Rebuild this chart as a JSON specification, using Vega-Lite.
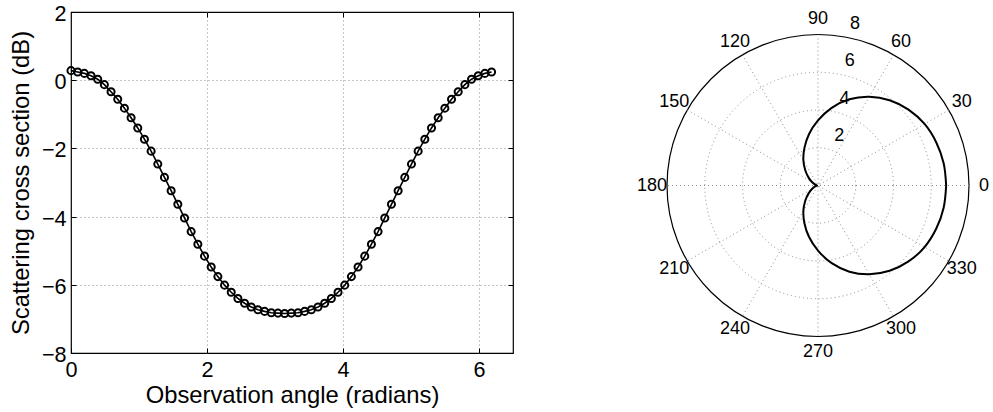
{
  "$schema": "https://vega.github.io/schema/vega-lite/v6.json",
  "background": "white",
  "padding": {"left": 8, "top": 2, "right": 5, "bottom": 2},
  "spacing": 154,
  "bounds": "flush",
  "config": {
    "font": "Liberation Sans",
    "view": {"stroke": null},
    "axis": {
      "labelFont": "Liberation Sans",
      "titleFont": "Liberation Sans",
      "labelColor": "black",
      "titleColor": "black",
      "titleFontWeight": "normal",
      "labelFontSize": 21.6,
      "titleFontSize": 23.8,
      "tickColor": "black",
      "tickWidth": 1,
      "labelFlush": false,
      "labelOverlap": false
    }
  },
  "hconcat": [
    {
      "width": 442,
      "height": 341,
      "view": {"stroke": "black", "strokeWidth": 1.2},
      "data": {
        "values": [
          {"angle": 0.0, "sigma": 0.28}, {"angle": 0.0982, "sigma": 0.24}, {"angle": 0.1963, "sigma": 0.20}, {"angle": 0.2945, "sigma": 0.13},
          {"angle": 0.3927, "sigma": 0.03}, {"angle": 0.4909, "sigma": -0.13}, {"angle": 0.5890, "sigma": -0.34}, {"angle": 0.6872, "sigma": -0.56},
          {"angle": 0.7854, "sigma": -0.82}, {"angle": 0.8836, "sigma": -1.10}, {"angle": 0.9817, "sigma": -1.40}, {"angle": 1.0799, "sigma": -1.73},
          {"angle": 1.1781, "sigma": -2.08}, {"angle": 1.2763, "sigma": -2.46}, {"angle": 1.3744, "sigma": -2.85}, {"angle": 1.4726, "sigma": -3.24},
          {"angle": 1.5708, "sigma": -3.64}, {"angle": 1.6690, "sigma": -4.04}, {"angle": 1.7671, "sigma": -4.44}, {"angle": 1.8653, "sigma": -4.81},
          {"angle": 1.9635, "sigma": -5.16}, {"angle": 2.0617, "sigma": -5.48}, {"angle": 2.1598, "sigma": -5.76}, {"angle": 2.2580, "sigma": -6.01},
          {"angle": 2.3562, "sigma": -6.22}, {"angle": 2.4544, "sigma": -6.40}, {"angle": 2.5525, "sigma": -6.54}, {"angle": 2.6507, "sigma": -6.65},
          {"angle": 2.7489, "sigma": -6.73}, {"angle": 2.8471, "sigma": -6.78}, {"angle": 2.9452, "sigma": -6.82}, {"angle": 3.0434, "sigma": -6.83},
          {"angle": 3.1416, "sigma": -6.84}, {"angle": 3.2398, "sigma": -6.83}, {"angle": 3.3379, "sigma": -6.82}, {"angle": 3.4361, "sigma": -6.78},
          {"angle": 3.5343, "sigma": -6.73}, {"angle": 3.6325, "sigma": -6.65}, {"angle": 3.7306, "sigma": -6.54}, {"angle": 3.8288, "sigma": -6.40},
          {"angle": 3.9270, "sigma": -6.22}, {"angle": 4.0252, "sigma": -6.01}, {"angle": 4.1233, "sigma": -5.76}, {"angle": 4.2215, "sigma": -5.48},
          {"angle": 4.3197, "sigma": -5.16}, {"angle": 4.4179, "sigma": -4.81}, {"angle": 4.5160, "sigma": -4.44}, {"angle": 4.6142, "sigma": -4.04},
          {"angle": 4.7124, "sigma": -3.64}, {"angle": 4.8106, "sigma": -3.24}, {"angle": 4.9087, "sigma": -2.85}, {"angle": 5.0069, "sigma": -2.46},
          {"angle": 5.1051, "sigma": -2.08}, {"angle": 5.2033, "sigma": -1.73}, {"angle": 5.3014, "sigma": -1.40}, {"angle": 5.3996, "sigma": -1.10},
          {"angle": 5.4978, "sigma": -0.82}, {"angle": 5.5960, "sigma": -0.56}, {"angle": 5.6941, "sigma": -0.34}, {"angle": 5.7923, "sigma": -0.13},
          {"angle": 5.8905, "sigma": 0.03}, {"angle": 5.9887, "sigma": 0.13}, {"angle": 6.0868, "sigma": 0.20}, {"angle": 6.1850, "sigma": 0.24}
        ]
      },
      "layer": [
        {
          "mark": {"type": "point", "opacity": 0},
          "encoding": {
            "x": {"field": "angle", "type": "quantitative", "scale": {"domain": [0, 6.5], "nice": false, "zero": false},
              "axis": {"orient": "top", "values": [2, 4, 6], "labels": false, "title": null, "domain": false, "ticks": true, "tickSize": -5,
                "grid": true, "gridColor": "#8c8c8c", "gridDash": [1, 3], "gridWidth": 1}},
            "y": {"field": "sigma", "type": "quantitative", "scale": {"domain": [-8, 2], "nice": false, "zero": false},
              "axis": {"orient": "right", "values": [-6, -4, -2, 0], "labels": false, "title": null, "domain": false, "ticks": true, "tickSize": -5,
                "grid": true, "gridColor": "#8c8c8c", "gridDash": [1, 3], "gridWidth": 1}}
          }
        },
        {
          "mark": {"type": "line", "color": "black", "strokeWidth": 1.6},
          "encoding": {
            "x": {"field": "angle", "type": "quantitative",
              "axis": {"orient": "bottom", "values": [0, 2, 4, 6], "format": "d", "title": "Observation angle (radians)", "domain": false, "grid": false,
                "tickSize": -5, "labelPadding": 11, "titlePadding": 3}},
            "y": {"field": "sigma", "type": "quantitative",
              "axis": {"orient": "left", "values": [-8, -6, -4, -2, 0, 2], "format": "d", "title": "Scattering cross section (dB)", "domain": false, "grid": false,
                "tickSize": -5, "labelPadding": 10, "labelOffset": 2.5, "titlePadding": 8}}
          }
        },
        {
          "mark": {"type": "point", "shape": "circle", "filled": false, "color": "black", "strokeWidth": 2, "size": 50, "opacity": 1},
          "encoding": {
            "x": {"field": "angle", "type": "quantitative", "axis": null},
            "y": {"field": "sigma", "type": "quantitative", "axis": null}
          }
        }
      ],
      "resolve": {"axis": {"x": "independent", "y": "independent"}}
    },
    {
      "width": 302,
      "height": 341,
      "layer": [
        {
          "data": {"values": [{"r": 2}, {"r": 4}, {"r": 6}]},
          "mark": {"type": "point", "shape": "circle", "filled": false, "color": "#8c8c8c", "strokeWidth": 1, "strokeDash": [1, 3], "opacity": 1},
          "encoding": {
            "x": {"datum": 0, "type": "quantitative", "scale": {"domain": [-8, 8], "nice": false, "zero": false}, "axis": null},
            "y": {"datum": 0, "type": "quantitative", "scale": {"domain": [-8.874, 9.192], "nice": false, "zero": false}, "axis": null},
            "size": {"field": "r", "type": "quantitative", "scale": {"type": "pow", "exponent": 2, "domain": [0, 8], "range": [0, 91204]}, "legend": null}
          }
        },
        {
          "data": {"values": [{"r": 8}]},
          "mark": {"type": "point", "shape": "circle", "filled": false, "color": "black", "strokeWidth": 1.2, "opacity": 1},
          "encoding": {
            "x": {"datum": 0, "type": "quantitative", "scale": {"domain": [-8, 8], "nice": false, "zero": false}, "axis": null},
            "y": {"datum": 0, "type": "quantitative", "scale": {"domain": [-8.874, 9.192], "nice": false, "zero": false}, "axis": null},
            "size": {"field": "r", "type": "quantitative", "scale": {"type": "pow", "exponent": 2, "domain": [0, 8], "range": [0, 91204]}, "legend": null}
          }
        },
        {
          "data": {"values": [{"angle": 0}, {"angle": 30}, {"angle": 60}, {"angle": 90}, {"angle": 120}, {"angle": 150}]},
          "transform": [
            {"calculate": "8*cos(datum.angle*PI/180)", "as": "x"},
            {"calculate": "8*sin(datum.angle*PI/180)", "as": "y"},
            {"calculate": "-datum.x", "as": "x2"},
            {"calculate": "-datum.y", "as": "y2"}
          ],
          "mark": {"type": "rule", "color": "#8c8c8c", "strokeWidth": 1, "strokeDash": [1, 3]},
          "encoding": {
            "x": {"field": "x", "type": "quantitative", "scale": {"domain": [-8, 8], "nice": false, "zero": false}, "axis": null},
            "y": {"field": "y", "type": "quantitative", "scale": {"domain": [-8.874, 9.192], "nice": false, "zero": false}, "axis": null},
            "x2": {"field": "x2"},
            "y2": {"field": "y2"}
          }
        },
        {
          "data": {
            "values": [
              {"theta": 0, "r": 6.79}, {"theta": 10, "r": 6.76}, {"theta": 20, "r": 6.67}, {"theta": 30, "r": 6.52},
              {"theta": 40, "r": 6.26}, {"theta": 50, "r": 5.90}, {"theta": 60, "r": 5.43}, {"theta": 70, "r": 4.86},
              {"theta": 80, "r": 4.18}, {"theta": 90, "r": 3.45}, {"theta": 100, "r": 2.76}, {"theta": 110, "r": 2.11},
              {"theta": 120, "r": 1.55}, {"theta": 130, "r": 1.05}, {"theta": 140, "r": 0.65}, {"theta": 150, "r": 0.37},
              {"theta": 160, "r": 0.18}, {"theta": 170, "r": 0.08}, {"theta": 180, "r": 0.05}, {"theta": 190, "r": 0.08},
              {"theta": 200, "r": 0.18}, {"theta": 210, "r": 0.37}, {"theta": 220, "r": 0.65}, {"theta": 230, "r": 1.05},
              {"theta": 240, "r": 1.55}, {"theta": 250, "r": 2.11}, {"theta": 260, "r": 2.76}, {"theta": 270, "r": 3.45},
              {"theta": 280, "r": 4.18}, {"theta": 290, "r": 4.86}, {"theta": 300, "r": 5.43}, {"theta": 310, "r": 5.90},
              {"theta": 320, "r": 6.26}, {"theta": 330, "r": 6.52}, {"theta": 340, "r": 6.67}, {"theta": 350, "r": 6.76},
              {"theta": 360, "r": 6.79}
            ]
          },
          "transform": [
            {"calculate": "datum.r*cos(datum.theta*PI/180)", "as": "x"},
            {"calculate": "datum.r*sin(datum.theta*PI/180)", "as": "y"}
          ],
          "mark": {"type": "line", "color": "black", "strokeWidth": 2, "interpolate": "catmull-rom"},
          "encoding": {
            "x": {"field": "x", "type": "quantitative", "scale": {"domain": [-8, 8], "nice": false, "zero": false}, "axis": null},
            "y": {"field": "y", "type": "quantitative", "scale": {"domain": [-8.874, 9.192], "nice": false, "zero": false}, "axis": null},
            "order": {"field": "theta", "type": "quantitative"}
          }
        },
        {
          "data": {"values": [{"angle": 0}, {"angle": 30}, {"angle": 60}, {"angle": 90}, {"angle": 120}, {"angle": 150},
            {"angle": 180}, {"angle": 210}, {"angle": 240}, {"angle": 270}, {"angle": 300}, {"angle": 330}]},
          "transform": [
            {"calculate": "8.8*cos(datum.angle*PI/180)", "as": "x"},
            {"calculate": "8.8*sin(datum.angle*PI/180)", "as": "y"}
          ],
          "mark": {"type": "text", "font": "Liberation Sans", "fontSize": 18, "color": "black", "align": "center", "baseline": "middle"},
          "encoding": {
            "x": {"field": "x", "type": "quantitative", "scale": {"domain": [-8, 8], "nice": false, "zero": false}, "axis": null},
            "y": {"field": "y", "type": "quantitative", "scale": {"domain": [-8.874, 9.192], "nice": false, "zero": false}, "axis": null},
            "text": {"field": "angle", "type": "quantitative", "format": "d"}
          }
        },
        {
          "data": {"values": [{"r": 2}, {"r": 4}, {"r": 6}, {"r": 8}]},
          "transform": [
            {"calculate": "datum.r*cos(82*PI/180)", "as": "x"},
            {"calculate": "datum.r*sin(82*PI/180)", "as": "y"}
          ],
          "mark": {"type": "text", "font": "Liberation Sans", "fontSize": 18, "color": "black", "align": "center", "baseline": "middle", "dx": 16, "dy": -12},
          "encoding": {
            "x": {"field": "x", "type": "quantitative", "scale": {"domain": [-8, 8], "nice": false, "zero": false}, "axis": null},
            "y": {"field": "y", "type": "quantitative", "scale": {"domain": [-8.874, 9.192], "nice": false, "zero": false}, "axis": null},
            "text": {"field": "r", "type": "quantitative", "format": "d"}
          }
        }
      ]
    }
  ]
}
